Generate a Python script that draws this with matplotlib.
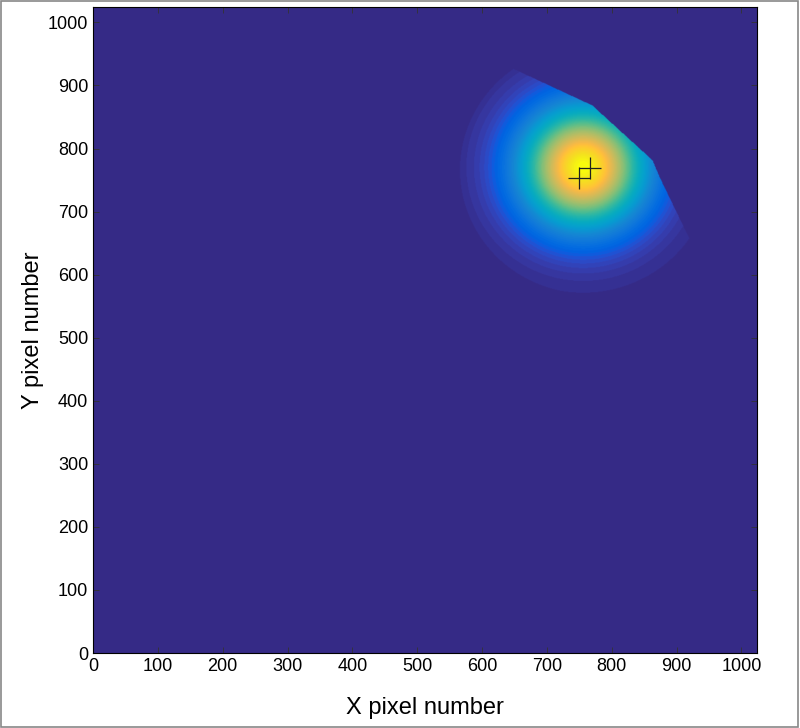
import numpy as np
import matplotlib
matplotlib.use("Agg")
from matplotlib import pyplot as plt
from matplotlib.colors import ListedColormap
from matplotlib.path import Path
from matplotlib.patches import Rectangle

# old matlab parula, 64 entries
parula_rgb = [
    [0.2081, 0.1663, 0.5292], [0.2116, 0.1898, 0.5777], [0.2123, 0.2138, 0.6270], [0.2081, 0.2386, 0.6771],
    [0.1959, 0.2645, 0.7279], [0.1707, 0.2919, 0.7792], [0.1253, 0.3242, 0.8303], [0.0591, 0.3598, 0.8683],
    [0.0117, 0.3875, 0.8820], [0.0060, 0.4086, 0.8828], [0.0165, 0.4266, 0.8786], [0.0329, 0.4430, 0.8720],
    [0.0498, 0.4586, 0.8641], [0.0629, 0.4737, 0.8554], [0.0723, 0.4887, 0.8467], [0.0779, 0.5040, 0.8384],
    [0.0793, 0.5200, 0.8312], [0.0749, 0.5375, 0.8263], [0.0641, 0.5570, 0.8240], [0.0488, 0.5772, 0.8228],
    [0.0343, 0.5966, 0.8199], [0.0265, 0.6137, 0.8135], [0.0239, 0.6287, 0.8038], [0.0231, 0.6418, 0.7913],
    [0.0228, 0.6535, 0.7768], [0.0267, 0.6642, 0.7607], [0.0384, 0.6743, 0.7436], [0.0590, 0.6838, 0.7254],
    [0.0843, 0.6928, 0.7062], [0.1133, 0.7015, 0.6859], [0.1453, 0.7098, 0.6646], [0.1801, 0.7177, 0.6424],
    [0.2178, 0.7250, 0.6193], [0.2586, 0.7317, 0.5954], [0.3022, 0.7376, 0.5712], [0.3482, 0.7424, 0.5473],
    [0.3953, 0.7459, 0.5244], [0.4420, 0.7481, 0.5033], [0.4871, 0.7491, 0.4840], [0.5300, 0.7491, 0.4661],
    [0.5709, 0.7485, 0.4494], [0.6099, 0.7473, 0.4337], [0.6473, 0.7456, 0.4188], [0.6834, 0.7435, 0.4044],
    [0.7184, 0.7411, 0.3905], [0.7525, 0.7384, 0.3768], [0.7858, 0.7356, 0.3633], [0.8185, 0.7327, 0.3498],
    [0.8507, 0.7299, 0.3360], [0.8824, 0.7274, 0.3217], [0.9139, 0.7258, 0.3063], [0.9450, 0.7261, 0.2886],
    [0.9739, 0.7314, 0.2666], [0.9938, 0.7455, 0.2403], [0.9990, 0.7653, 0.2164], [0.9955, 0.7861, 0.1967],
    [0.9880, 0.8066, 0.1794], [0.9789, 0.8271, 0.1633], [0.9697, 0.8481, 0.1475], [0.9626, 0.8705, 0.1309],
    [0.9589, 0.8949, 0.1132], [0.9598, 0.9218, 0.0948], [0.9661, 0.9514, 0.0755], [0.9763, 0.9831, 0.0538]]
parula = ListedColormap(parula_rgb, name="parula")

# spot parameters (data units = pixels)
spot_center = (756, 770)
spot_scale = 92
spot_power = 1.85
disk_center = (762, 766)
disk_radius = 196
# upper-right cut edge of the illuminated area
cut_x = [642, 770, 863, 874, 915, 924]
cut_y = [929, 868, 781, 754, 667, 650]
# detected centroids
mark_x = [766, 749]
mark_y = [769, 754]

size = 1024
xx, yy = np.meshgrid(np.arange(size) + 0.5, np.arange(size) + 0.5)
r = np.hypot(xx - spot_center[0], yy - spot_center[1])
Z = np.exp(-(r / spot_scale)**spot_power)
inside = (xx - disk_center[0])**2 + (yy - disk_center[1])**2 <= disk_radius**2
cut_poly = list(zip(cut_x, cut_y)) + [(1024, 600), (1024, 1024), (cut_x[0], 1024)]
cut = Path(cut_poly).contains_points(np.c_[xx.ravel(), yy.ravel()]).reshape(xx.shape)
Z = np.where(inside & ~cut, Z, 0.0)

fig = plt.figure(figsize=(8, 7.28), dpi=100)
plt.rcParams['font.family'] = ['Liberation Sans', 'DejaVu Sans']
ax = fig.add_axes([0.11625, 0.103, 0.83, 0.887])
ax.imshow(Z, cmap=parula, origin='lower', extent=[0, size, 0, size],
          vmin=0, vmax=1, aspect='auto', interpolation='bilinear')
ax.plot(mark_x, mark_y, '+', color='#202020', markersize=16, markeredgewidth=0.9)

ax.set_xlim(0, size)
ax.set_ylim(0, size)
ax.set_xticks(np.arange(0, 1001, 100))
ax.set_yticks(np.arange(0, 1001, 100))
ax.tick_params(direction='in', length=4, width=0.6, labelsize=13, top=True, right=True,
               color='#333333')
ax.set_xlabel('X pixel number', fontsize=17, labelpad=16)
ax.set_ylabel('Y pixel number', fontsize=17, labelpad=3)
for s in ax.spines.values():
    s.set_linewidth(0.8)

# thin grey frame round the whole figure
fig.patches.append(Rectangle((0.001, 0.001), 0.997, 0.997, transform=fig.transFigure,
                             fill=False, edgecolor='#888888', linewidth=1.2))

fig.savefig('out.png', dpi=100)
